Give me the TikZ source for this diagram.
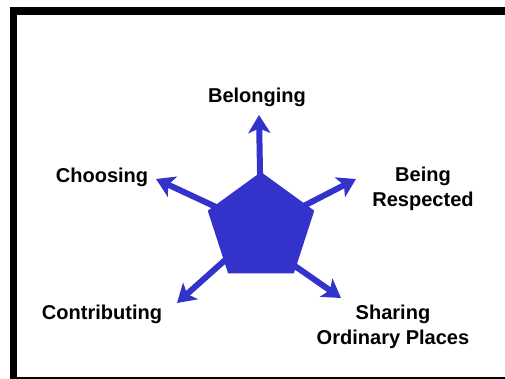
\documentclass[tikz,border=0pt]{standalone}
\usepackage{fontspec}
\setmainfont{Liberation Sans}
\usetikzlibrary{shapes.geometric,arrows.meta}
\definecolor{spokeblue}{RGB}{51,51,204}

\begin{document}
\begin{tikzpicture}[
  x=0.02cm, y=-0.02cm,
  hub/.style={
    regular polygon,
    regular polygon sides=5,
    minimum size=2.24cm,
    inner sep=0pt,
    outer sep=0pt
  },
  spoke/.style={
    draw=spokeblue,
    line width=0.12cm,
    -{Stealth[length=0.36cm,width=0.44cm,inset=0.09cm]}
  },
  value/.style={
    font=\fontsize{11.4}{14.2}\selectfont\bfseries,
    align=center,
    inner sep=0pt
  }
]
\useasboundingbox (0,0) rectangle (505,379);
% frame, cut off on the right
\fill[black] (10,7) rectangle (505,15);
\fill[black] (10,7) rectangle (17.5,379);
\fill[black] (10,376.5) rectangle (505,379);

\node[hub] (hub) at (261,228) {};

\coordinate (tipBelonging)   at (259,115);
\coordinate (tipRespected)   at (356,179);
\coordinate (tipChoosing)    at (156,179);
\coordinate (tipContributing) at (177,303);
\coordinate (tipSharing)     at (341,298);

\foreach \T in {Belonging,Respected,Choosing,Contributing}
  \draw[spoke] (hub.center) -- (tip\T);
\draw[spoke] ([yshift=0.16cm]hub.corner 4) -- (tipSharing);
\fill[spokeblue] (hub.corner 1) -- (hub.corner 2) -- (hub.corner 3)
  -- (hub.corner 4) -- (hub.corner 5) -- cycle;

\node[value,anchor=base] (belonging) at (257,102) {Belonging};
\node[value,anchor=base] (choosing) at (102,182) {Choosing};
\node[value] (respected) at (423,189) {Being\\Respected};
\node[value,anchor=base] (contributing) at (102,319) {Contributing};
\node[value] (sharing) at (393,326.5) {Sharing\\Ordinary Places};
\end{tikzpicture}
\end{document}
